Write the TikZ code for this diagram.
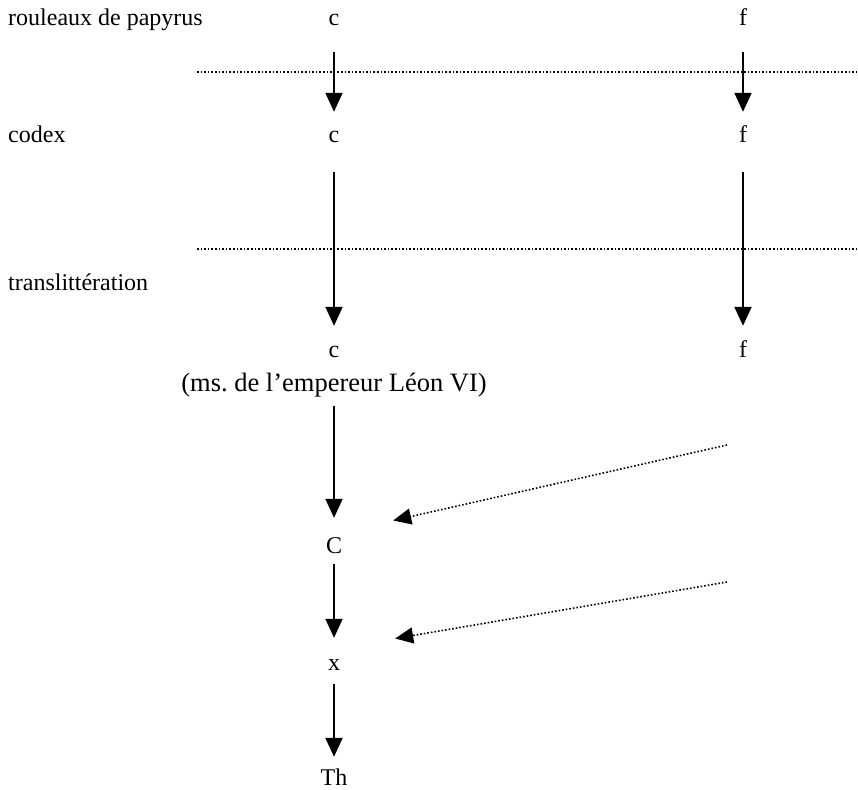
\documentclass[tikz,border=0pt]{standalone}
\usepackage{fontspec}
\setmainfont{Liberation Serif}
\usetikzlibrary{arrows.meta}
\frenchspacing

\begin{document}
\begin{tikzpicture}[x=1pt, y=-1pt,
		every node/.style = {font=\fontsize{24}{28}\selectfont, inner sep=0pt, text height=17pt, text depth=6pt, anchor=base},
		flow/.style = {line width=2pt, -{Triangle[length=19pt, width=17pt]}},
		hint/.style = {line width=1.6pt, dash pattern=on 1.6pt off 2pt, -{Triangle[length=18pt, width=16pt]}},
		sep/.style = {line width=1.6pt, dash pattern=on 1.6pt off 2pt}]
		\def\xc{334};
		\def\xf{743};

		\useasboundingbox (0,0) rectangle (858,789);

		% supports
		\node [anchor=base west] (roll) at (8,26) {rouleaux de papyrus};
		\node [anchor=base west] (codex) at (8,142) {codex};
		\node [anchor=base west] (transl) at (8,290) {translittération};

		\draw [sep] (197,72) -- (858,72);
		\draw [sep] (197,249) -- (858,249);

		% the two branches
		\node (c1) at (\xc,26) {c};
		\node (c2) at (\xc,142) {c};
		\node (c3) at (\xc,357) {c};

		\node (f1) at (\xf,26) {f};
		\node (f2) at (\xf,142) {f};
		\node (f3) at (\xf,357) {f};

		\draw [flow, shorten <=20pt, shorten >=13pt] (c1.south) -- (c2.north);
		\draw [flow, shorten <=24pt, shorten >=14pt] (c2.south) -- (c3.north);
		\draw [flow, shorten <=20pt, shorten >=13pt] (f1.south) -- (f2.north);
		\draw [flow, shorten <=24pt, shorten >=14pt] (f2.south) -- (f3.north);

		% later manuscripts
		\node [font=\fontsize{26.5}{30}\selectfont] (leon) at (\xc,391) {(ms. de l'empereur Léon VI)};
		\node (C) at (\xc,553) {C};
		\node (x) at (\xc,670) {x};
		\node (Th) at (\xc,785) {Th};

		\draw [flow, shorten <=9pt, shorten >=18pt] (leon.south) -- (C.north);
		\draw [flow, shorten <=5pt, shorten >=15pt] (C.south) -- (x.north);
		\draw [flow, shorten <=8pt, shorten >=11pt] (x.south) -- (Th.north);

		\coordinate (src1) at (727,445);
		\coordinate (src2) at (727,582);

		\draw [hint] (src1) -- ([xshift=51pt, yshift=27pt]C.east);
		\draw [hint] (src2) -- ([xshift=55pt, yshift=26pt]x.east);
	\end{tikzpicture}
\end{document}
